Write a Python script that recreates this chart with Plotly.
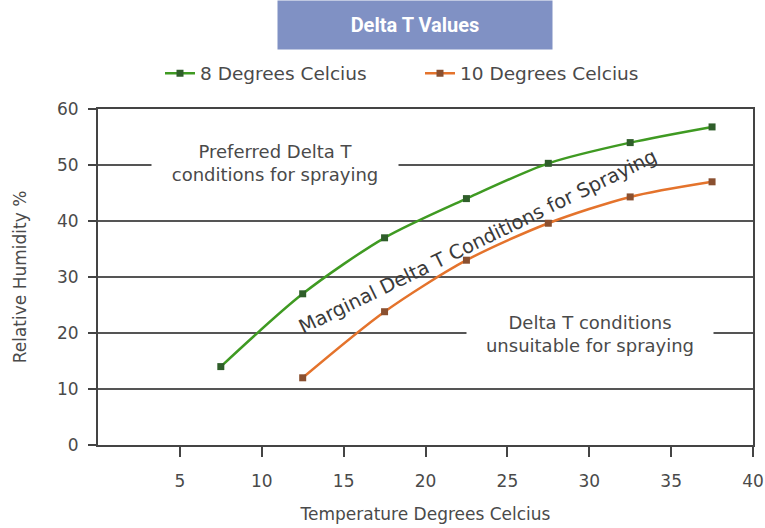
import plotly.graph_objects as go

temps_8 = [7.5, 12.5, 17.5, 22.5, 27.5, 32.5, 37.5]
rh_8 = [14, 27, 37, 44, 50.3, 54, 56.8]
temps_10 = [12.5, 17.5, 22.5, 27.5, 32.5, 37.5]
rh_10 = [12, 23.8, 33, 39.6, 44.3, 47]
series_names = ["8 Degrees Celcius", "10 Degrees Celcius"]
x_ticks = [5, 10, 15, 20, 25, 30, 35, 40]
y_ticks = [0, 10, 20, 30, 40, 50, 60]

FONT = "DejaVu Sans"
GRAY = "#4a4a4a"

fig = go.Figure()
fig.add_trace(go.Scatter(
    x=temps_8, y=rh_8, name=series_names[0], mode="lines+markers",
    line=dict(color="#3f9a22", width=2.5, shape="spline", smoothing=0.8),
    marker=dict(symbol="square", size=7, color="#2f5e2a"),
))
fig.add_trace(go.Scatter(
    x=temps_10, y=rh_10, name=series_names[1], mode="lines+markers",
    line=dict(color="#e4732c", width=2.5, shape="spline", smoothing=0.8),
    marker=dict(symbol="square", size=7, color="#8a5030"),
))

fig.update_layout(
    width=765, height=528,
    margin=dict(l=98, r=12, t=109, b=83),
    paper_bgcolor="white", plot_bgcolor="white",
    font=dict(family=FONT, color=GRAY, size=16),
    showlegend=True,
    legend=dict(orientation="h", x=(160 - 98) / 655, xanchor="left", y=1.105, yanchor="middle",
                entrywidth=215, font=dict(size=18.5, color=GRAY), bgcolor="rgba(0,0,0,0)"),
    xaxis=dict(range=[0, 40], tickvals=x_ticks, showgrid=False, zeroline=False,
               showline=True, linecolor="#444", linewidth=2, mirror=True,
               ticks="outside", ticklen=10, tickwidth=1.5, tickcolor="#444",
               ticklabelstandoff=10, automargin=False,
               tickfont=dict(size=17, color=GRAY),
               title=dict(text="Temperature Degrees Celcius", font=dict(size=17, color=GRAY), standoff=18)),
    yaxis=dict(range=[0, 60], tickvals=y_ticks, showgrid=True, gridcolor="#555", gridwidth=2,
               zeroline=False, showline=True, linecolor="#444", linewidth=2, mirror=True,
               ticks="outside", ticklen=8, tickwidth=1.5, tickcolor="#444",
               ticklabelstandoff=6, automargin=False,
               tickfont=dict(size=17, color=GRAY),
               title=dict(text="Relative Humidity %", font=dict(size=17, color=GRAY), standoff=26)),
)

# Title box
fig.add_annotation(
    xref="paper", yref="paper", x=(415 - 98) / 655, y=(445 - 0) / 336,
    xanchor="center", yanchor="top", showarrow=False,
    text="<b>Delta T Values</b>", width=274, height=48, bgcolor="#8091c4", borderpad=0,
    font=dict(family="Liberation Sans Narrow, Roboto", size=20, color="white"),
)

# Region labels
fig.add_annotation(
    x=10.8, y=50.3, xref="x", yref="y", showarrow=False,
    text="Preferred Delta T<br>conditions for spraying", bgcolor="white",
    width=232, font=dict(size=18, color=GRAY), borderpad=7,
)
fig.add_annotation(
    x=30.05, y=19.8, xref="x", yref="y", showarrow=False,
    text="Delta T conditions<br>unsuitable for spraying", bgcolor="white",
    width=232, font=dict(size=18, color=GRAY), borderpad=7,
)
fig.add_annotation(
    x=23.2, y=36.4, xref="x", yref="y", showarrow=False, textangle=-26,
    text="Marginal Delta T Conditions for Spraying",
    font=dict(size=19.5, color="#3a3a3a"), borderpad=0,
)

fig.write_html("out.html", config={"displayModeBar": False},
               post_script="document.body.style.margin='0';")
